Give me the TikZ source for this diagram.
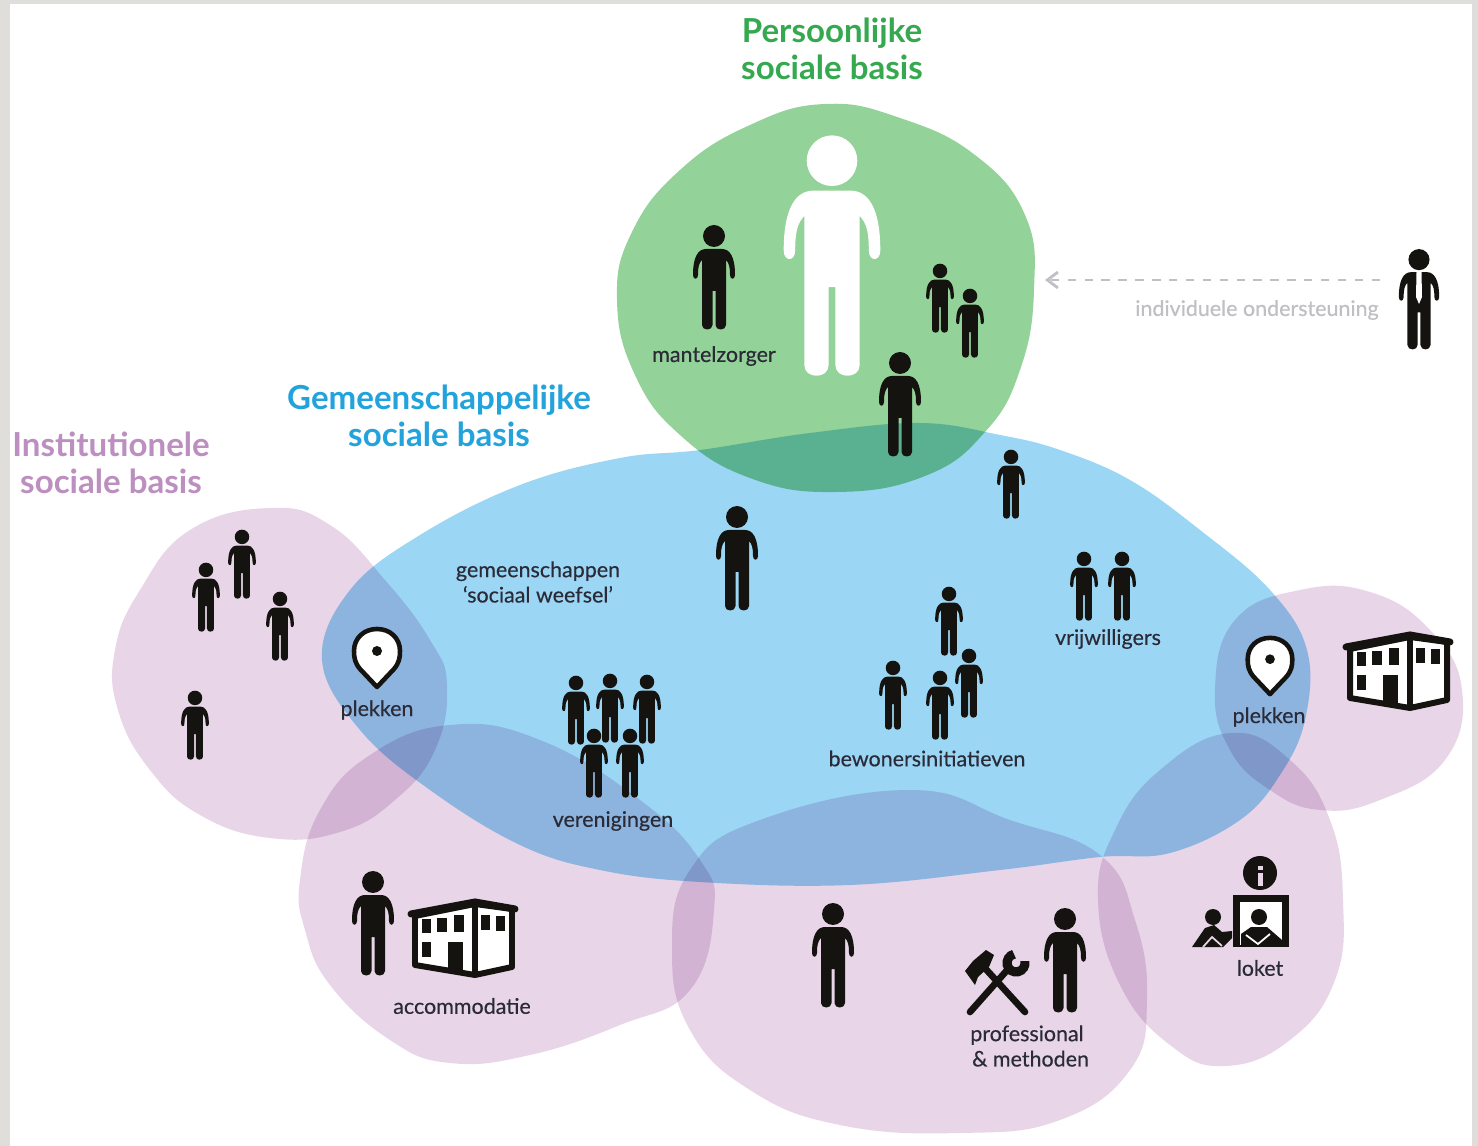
\documentclass[tikz,border=0pt]{standalone}
\usepackage{fontspec}
\setmainfont{Lato}
\usepackage{xcolor}
\usetikzlibrary{arrows.meta}

\definecolor{ink}{HTML}{15130F}
\definecolor{framegrey}{HTML}{E0DEDA}
\definecolor{blobgreen}{HTML}{93D298}
\definecolor{blobblue}{HTML}{9BD7F5}
\definecolor{blobpink}{HTML}{E8D6E8}
\definecolor{headgreen}{HTML}{35A94F}
\definecolor{headblue}{HTML}{22A3DC}
\definecolor{headpink}{HTML}{BC8FC0}
\definecolor{labelink}{HTML}{2B2B38}
\definecolor{arrowgrey}{HTML}{BFBFC4}

\tikzset{
    blob/.style={fill=#1,blend mode=multiply},
    heading/.style={font=\fontsize{9.4}{10.6}\selectfont\bfseries,align=center,text=#1},
    smalltext/.style={font=\fontsize{6.1}{7.2}\selectfont\addfontfeature{FakeBold=0.4},align=center,text=labelink},
    pics/person/.default=ink,
    pics/person/.style={code={
        \fill[#1] (0,-41) circle[radius=11];
        \fill[#1] (-8,-28) -- (8,-28) .. controls (16,-28) and (21,-20) .. (21,-2)
            .. controls (21,3) and (16,3) .. (16,-2)
            .. controls (16,-10) and (15,-14) .. (12,-17)
            -- (12,48) .. controls (12,54) and (1.5,54) .. (1.5,48) -- (1.5,14) -- (-1.5,14) -- (-1.5,48)
            .. controls (-1.5,54) and (-12,54) .. (-12,48) -- (-12,-17)
            .. controls (-15,-14) and (-16,-10) .. (-16,-2)
            .. controls (-16,3) and (-21,3) .. (-21,-2)
            .. controls (-21,-20) and (-16,-28) .. (-8,-28) -- cycle;
    }},
    pin/.pic={
        \draw[ink,fill=white,line width=1.3pt,line join=round] (0,29) -- (-17,11) .. controls (-22,5) and (-23,0) .. (-23,-7)
            .. controls (-23,-20) and (-13,-29) .. (0,-29)
            .. controls (13,-29) and (23,-20) .. (23,-7)
            .. controls (23,0) and (22,5) .. (17,11) -- cycle;
        \fill[ink] (0,-7) circle[radius=5];
    },
    building/.pic={
        \draw[ink,fill=white,line width=1.7pt,line join=round] (-47,-23) -- (13,-35) -- (50,-30) -- (50,28) -- (13,36) -- (-47,26) -- cycle;
        \draw[ink,line width=2pt,line cap=round] (-51,-25) -- (13,-37) -- (53,-30);
        \draw[ink,line width=1.7pt] (13,-35) -- (13,36);
        \fill[ink] (-40,-20) rectangle (-31,-6);
        \fill[ink] (-25,-21) rectangle (-15,-7);
        \fill[ink] (-8,-24) rectangle (2,-7);
        \fill[ink] (-40,3) rectangle (-31,18);
        \fill[ink] (-14,3) rectangle (1,34);
        \fill[ink] (19,-24) rectangle (28,-9);
        \fill[ink] (34,-23) rectangle (43,-8);
    }
}

\begin{document}
\begin{tikzpicture}[x=0.01cm,y=-0.01cm]
    \useasboundingbox (0,0) rectangle (1478,1146);
    \fill[framegrey] (0,0) rectangle (1478,1146);
    \fill[white] (10,4) rectangle (1472,1146);

    % blobs
    \path[blob=blobgreen] plot[smooth cycle,tension=0.75] coordinates {(825,104) (900,118) (975,155) (1025,215) (1034,290) (1020,370) (985,432) (925,476) (835,492) (750,478) (680,435) (635,375) (617,300) (632,232) (680,170) (750,125)};
    \path[blob=blobblue] plot[smooth cycle,tension=0.65] coordinates {(322,660) (350,590) (420,535) (520,485) (620,458) (700,450) (810,433) (920,423) (1000,435) (1060,450) (1130,480) (1200,530) (1270,590) (1307,650) (1305,720) (1280,775) (1240,820) (1170,853) (1100,857) (1000,870) (850,885) (700,882) (600,870) (520,845) (430,790) (360,730)};
    \path[blob=blobpink] plot[smooth cycle,tension=0.75] coordinates {(270,508) (330,525) (385,580) (430,640) (447,685) (435,750) (395,800) (340,832) (270,838) (200,815) (150,770) (118,710) (115,650) (140,590) (190,530)};
    \path[blob=blobpink] plot[smooth cycle,tension=0.75] coordinates {(300,880) (320,810) (370,755) (450,725) (540,740) (640,800) (700,860) (714,910) (690,990) (620,1025) (530,1055) (450,1063) (390,1040) (330,985) (305,930)};
    \path[blob=blobpink] plot[smooth cycle,tension=0.75] coordinates {(672,950) (690,870) (760,820) (910,790) (1010,820) (1100,855) (1135,920) (1147,1000) (1130,1070) (1060,1120) (960,1133) (840,1125) (750,1090) (690,1030)};
    \path[blob=blobpink] plot[smooth cycle,tension=0.75] coordinates {(1098,900) (1115,830) (1160,770) (1230,733) (1290,760) (1330,820) (1343,900) (1335,980) (1290,1040) (1225,1066) (1170,1045) (1120,985)};
    \path[blob=blobpink] plot[smooth cycle,tension=0.75] coordinates {(1215,690) (1235,620) (1300,590) (1370,592) (1430,630) (1462,690) (1445,760) (1380,800) (1320,810) (1270,790) (1230,750)};

    % headings
    \node[heading=headgreen] (persoonlijk) at (832,48.5) {Persoonlijke\\sociale basis};
    \node[heading=headblue] (gemeenschappelijk) at (439,415.5) {Gemeenschappelijke\\sociale basis};
    \node[heading=headpink] (institutioneel) at (111,463) {Institutionele\\sociale basis};

    % green blob
    \pic[scale=2.3] (client) at (832,255) {person=white};
    \pic (mantelzorger) at (714,277) {person};
    \pic[scale=0.66] (kind1) at (940,298) {person};
    \pic[scale=0.66] (kind2) at (970,323) {person};
    \pic (buur) at (900,404) {person};
    \node[smalltext] (mantelzorgertext) at (714,356) {mantelzorger};

    % support worker
    \pic[scale=0.96] (steun) at (1419,299) {person};
    \fill[white] (1416.5,272) -- (1421.5,272) -- (1422,297) -- (1419,304) -- (1416,297) -- cycle;
    \coordinate (steunstart) at (1380,280);
    \coordinate (steunend) at (1045,280);
    \draw[arrowgrey,line width=0.8pt,dash pattern=on 2.4pt off 2.4pt,-{Straight Barb[length=3pt,width=4.5pt]}] (steunstart) -- (steunend);
    \node[smalltext,text=arrowgrey] (steuntext) at (1257,310) {individuele ondersteuning};

    % blue blob
    \pic[scale=0.66] (blauw1) at (1011,484) {person};
    \pic (blauw2) at (737,558) {person};
    \node[smalltext] (weefseltext) at (538,582) {gemeenschappen\\`sociaal weefsel'};

    \pic[scale=0.66] (vrij1) at (1084,586) {person};
    \pic[scale=0.66] (vrij2) at (1122,586) {person};
    \node[smalltext] (vrijtext) at (1108,639) {vrijwilligers};

    \pic[scale=0.66] (bew1) at (949,621) {person};
    \pic[scale=0.66] (bew2) at (969,683) {person};
    \pic[scale=0.66] (bew3) at (893,695) {person};
    \pic[scale=0.66] (bew4) at (940,705) {person};
    \node[smalltext] (bewtext) at (927,758.5) {bewonersinitiatieven};

    \pic[scale=0.66] (ver1) at (576,710) {person};
    \pic[scale=0.66] (ver2) at (610,708) {person};
    \pic[scale=0.66] (ver3) at (647,709) {person};
    \pic[scale=0.66] (ver4) at (594,763) {person};
    \pic[scale=0.66] (ver5) at (630,763) {person};
    \node[smalltext] (vertext) at (613,821) {verenigingen};

    % places
    \pic (pinleft) at (377,658) {pin};
    \node[smalltext] (plekleft) at (377,710) {plekken};
    \pic[scale=0.97] (pinright) at (1270,666) {pin};
    \node[smalltext] (plekright) at (1269,717) {plekken};

    % left pink blob
    \pic[scale=0.66] (inst1) at (242,564) {person};
    \pic[scale=0.66] (inst2) at (206,597) {person};
    \pic[scale=0.66] (inst3) at (280,626) {person};
    \pic[scale=0.66] (inst4) at (195,725) {person};

    % accommodatie
    \pic (accperson) at (373,923) {person};
    \pic (accbuilding) at (462,939) {building};
    \node[smalltext] (acctext) at (462,1006) {accommodatie};

    \pic (rightbuilding) at (1397,672) {building};

    % professional
    \pic (midperson) at (833,955) {person};
    \pic (proffperson) at (1065,960) {person};
    \draw[ink,line width=1.9pt,line cap=round] (970,1012) -- (1009,968);
    \draw[ink,line width=2.6pt] (1014,954.2) arc[start angle=-103,end angle=-372,radius=9];
    \draw[ink,line width=1.9pt,line cap=round] (1025,1012) -- (983,966);
    \fill[ink] (965,971) -- (973,961) -- (986,950) -- (994,955) -- (989,967) -- (978,977) -- (975,985) -- cycle;
    \node[smalltext] (proftext) at (1027,1046) {professional\\\,\,\& methoden};

    % loket
    \fill[ink] (1260,873) circle[radius=17];
    \fill[blobpink] (1257.5,866) rectangle (1262.5,870);
    \fill[blobpink] (1257.5,873) rectangle (1262.5,886);
    \fill[ink] (1233,895) rectangle (1289,947);
    \fill[white] (1240,902) rectangle (1282,945);
    \fill[ink] (1259,917) circle[radius=8];
    \fill[ink] (1241,934) -- (1251,927) -- (1267,927) -- (1282,940) -- (1282,946) -- (1241,946) -- cycle;
    \draw[white,line width=0.5pt] (1246,935) -- (1258,944) -- (1270,934);
    \fill[ink] (1213,917) circle[radius=8];
    \fill[ink] (1192,947) -- (1205,928) -- (1214,925) -- (1222,932) -- (1232,931) -- (1232,938) -- (1223,947) -- cycle;
    \draw[blobpink,line width=0.5pt] (1203,947) -- (1212,937) -- (1222,946);
    \node[smalltext] (lokettext) at (1260,968) {loket};
\end{tikzpicture}
\end{document}
